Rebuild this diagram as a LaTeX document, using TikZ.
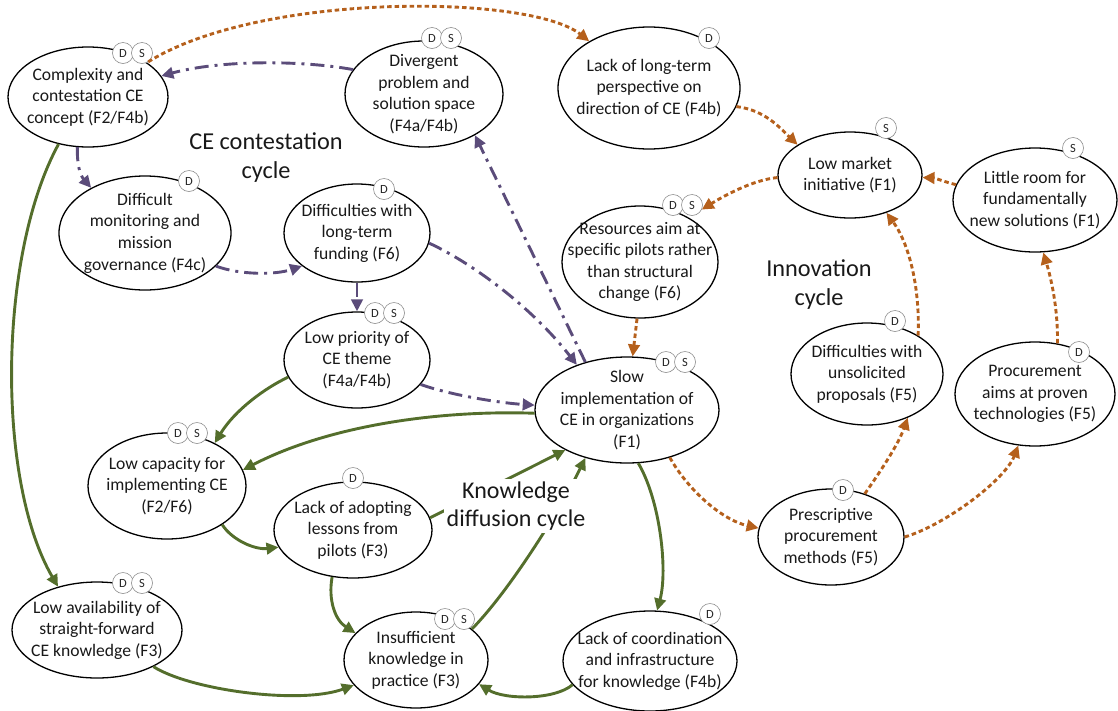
\documentclass[tikz,border=0pt]{standalone}
\usepackage{fontspec}
\setmainfont{Carlito}
\usetikzlibrary{shapes.geometric,arrows.meta}
\definecolor{corange}{RGB}{181,96,28}
\definecolor{cpurple}{RGB}{91,76,122}
\definecolor{cgreen}{RGB}{84,110,44}
\tikzset{
 ell/.style={ellipse, draw=black, line width=1.3pt, fill=white, inner sep=0pt},
 lbl/.style={align=center, inner sep=0pt, text=black!90, font=\fontsize{17.6}{21.6}\selectfont},
 badge/.style={circle, draw=black!45, line width=0.6pt, fill=white, minimum size=21pt, inner sep=0pt, text=black!85, font=\fontsize{12.5}{12.5}\selectfont},
 cyc/.style={align=center, text=black!90, font=\fontsize{24.3}{29}\selectfont},
 tip/.style={-{Triangle[length=12pt,width=11.5pt]}},
 oarr/.style={draw=corange, line width=2.9pt, dash pattern=on 4.5pt off 3pt, tip},
 parr/.style={draw=cpurple, line width=2.9pt, dash pattern=on 14pt off 6pt on 3pt off 6pt, tip},
 garr/.style={draw=cgreen, line width=2.9pt, tip},
}
\begin{document}
\begin{tikzpicture}[x=1pt,y=-1pt]
\useasboundingbox (0,0) rectangle (1118,710);
% ellipses
\node[ell, minimum width=160, minimum height=100] (a) at (88,97) {};
\node[ell, minimum width=158, minimum height=106] (b) at (424,94) {};
\node[ell, minimum width=182, minimum height=122] (c) at (649,88) {};
\node[ell, minimum width=144, minimum height=86] (d) at (850,175) {};
\node[ell, minimum width=164, minimum height=104] (e) at (1035,200) {};
\node[ell, minimum width=172, minimum height=114] (f) at (145,233) {};
\node[ell, minimum width=146, minimum height=98] (g) at (357,233) {};
\node[ell, minimum width=146, minimum height=96] (h) at (357,360) {};
\node[ell, minimum width=158, minimum height=106] (i) at (167,486) {};
\node[ell, minimum width=158, minimum height=96] (j) at (353,530) {};
\node[ell, minimum width=184, minimum height=106] (k) at (627,410) {};
\node[ell, minimum width=146, minimum height=96] (l) at (831,537) {};
\node[ell, minimum width=152, minimum height=102] (m) at (867,374) {};
\node[ell, minimum width=160, minimum height=104] (n) at (1035,394) {};
\node[ell, minimum width=156, minimum height=112] (o) at (640,262) {};
\node[ell, minimum width=170, minimum height=96] (p) at (97,630) {};
\node[ell, minimum width=144, minimum height=96] (q) at (416,660) {};
\node[ell, minimum width=174, minimum height=100] (r) at (650,661) {};
% texts
\node[lbl] (a-t) at (a) {Complexity and\\contestation CE\\concept (F2/F4b)};
\node[lbl] (b-t) at (b) {Divergent\\problem and\\solution space\\(F4a/F4b)};
\node[lbl] (c-t) at (c) {Lack of long-term\\perspective on\\direction of CE (F4b)};
\node[lbl] (d-t) at (d) {Low market\\initiative (F1)};
\node[lbl] (e-t) at (e) {Little room for\\fundamentally\\new solutions (F1)};
\node[lbl] (f-t) at (f) {Difficult\\monitoring and\\mission\\governance (F4c)};
\node[lbl] (g-t) at (g) {Difficulties with\\long-term\\funding (F6)};
\node[lbl] (h-t) at (h) {Low priority of\\CE theme\\(F4a/F4b)};
\node[lbl] (i-t) at (i) {Low capacity for\\implementing CE\\(F2/F6)};
\node[lbl] (j-t) at (j) {Lack of adopting\\lessons from\\pilots (F3)};
\node[lbl] (k-t) at (k) {Slow\\implementation of\\CE in organizations\\(F1)};
\node[lbl] (l-t) at (l) {Prescriptive\\procurement\\methods (F5)};
\node[lbl] (m-t) at (m) {Difficulties with\\unsolicited\\proposals (F5)};
\node[lbl] (n-t) at (n) {Procurement\\aims at proven\\technologies (F5)};
\node[lbl] (o-t) at (o) {Resources aim at\\specific pilots rather\\than structural\\change (F6)};
\node[lbl] (p-t) at (p) {Low availability of\\straight-forward\\CE knowledge (F3)};
\node[lbl] (q-t) at (q) {Insufficient\\knowledge in\\practice (F3)};
\node[lbl] (r-t) at (r) {Lack of coordination\\and infrastructure\\for knowledge (F4b)};
% badges
\node[badge] (a-d) at (123,53) {D}; \node[badge] (a-s) at (142,53) {S};
\node[badge] (b-d) at (432,38) {D}; \node[badge] (b-s) at (451,38) {S};
\node[badge] (c-d) at (709,38) {D};
\node[badge] (d-s) at (886,128) {S};
\node[badge] (e-s) at (1073,148) {S};
\node[badge] (f-d) at (189,181) {D};
\node[badge] (g-d) at (384,189) {D};
\node[badge] (h-d) at (375,313) {D}; \node[badge] (h-s) at (394,313) {S};
\node[badge] (i-d) at (178,433) {D}; \node[badge] (i-s) at (197,433) {S};
\node[badge] (j-d) at (353,478) {D};
\node[badge] (k-d) at (666,362) {D}; \node[badge] (k-s) at (685,362) {S};
\node[badge] (l-d) at (843,490) {D};
\node[badge] (m-d) at (895,321) {D};
\node[badge] (n-d) at (1079,352) {D};
\node[badge] (o-d) at (673,205) {D}; \node[badge] (o-s) at (692,205) {S};
\node[badge] (p-d) at (123,583) {D}; \node[badge] (p-s) at (142,583) {S};
\node[badge] (q-d) at (445,619) {D}; \node[badge] (q-s) at (464,619) {S};
\node[badge] (r-d) at (710,614) {D};
% innovation cycle (orange)
\draw[oarr] (a-s.-55) .. controls (260,-8) and (530,-6) .. (c.142);
\draw[oarr] (c.-12) .. controls (765,110) and (780,128) .. (d.150);
\draw[oarr] (d.182) .. controls (752,180) and (722,197) .. (o-s.-25);
\draw[oarr] (e.169) .. controls (945,182) and (935,178) .. (d.-2);
\draw[oarr] (o.-93) -- (k.84);
\draw[oarr] (k.-48) .. controls (688,490) and (722,520) .. (l.173);
\draw[oarr] (l.52) .. controls (880,472) and (898,445) .. (m.-47);
\draw[oarr] (l.0) .. controls (945,525) and (1005,480) .. (n.-108);
\draw[oarr] (m.37) .. controls (920,290) and (910,245) .. (d.-46);
\draw[oarr] (n.66) .. controls (1058,305) and (1050,275) .. (e.-81);
% contestation cycle (purple)
\draw[parr] (b.161) .. controls (300,60) and (220,60) .. (a.16);
\draw[parr] (a.-102) .. controls (77,165) and (80,175) .. (f.140);
\draw[parr] (f.-25) .. controls (240,275) and (275,275) .. (g.-149);
\draw[parr] (g.south) -- (h.north);
\draw[parr] (g.-8) .. controls (470,262) and (530,305) .. (k.138);
\draw[parr] (h.-21) .. controls (450,395) and (500,403) .. (k.177);
\draw[parr] (k.131) -- (b.-39);
% knowledge diffusion cycle (green)
\draw[garr] (a.-122) .. controls (-2,255) and (-4,480) .. (p.132);
\draw[garr] (h.-166) .. controls (265,388) and (235,410) .. (i.42);
\draw[garr] (k.182) .. controls (440,410) and (330,425) .. (i.12);
\draw[garr] (i.-35) .. controls (232,540) and (255,550) .. (j.-167);
\draw[garr] (j.9) -- (k.-147);
\draw[garr] (q.29) .. controls (510,590) and (560,510) .. (k.-131);
\draw[garr] (j.-114) .. controls (328,600) and (335,620) .. (q.156);
\draw[garr] (p.-33) .. controls (190,690) and (300,705) .. (q.-158);
\draw[garr] (k.-78) .. controls (660,500) and (668,570) .. (r.82);
\draw[garr] (r.-163) .. controls (555,700) and (505,700) .. (q.-21);
% cycle labels
\node[cyc] (cyc1) at (266,158) {CE contestation\\cycle};
\node[cyc] (cyc2) at (819,285) {Innovation\\cycle};
\node[cyc, fill=white, inner sep=3pt, font=\fontsize{24}{28}\selectfont] (cyc3) at (516,506) {Knowledge\\diffusion cycle};
\end{tikzpicture}
\end{document}
